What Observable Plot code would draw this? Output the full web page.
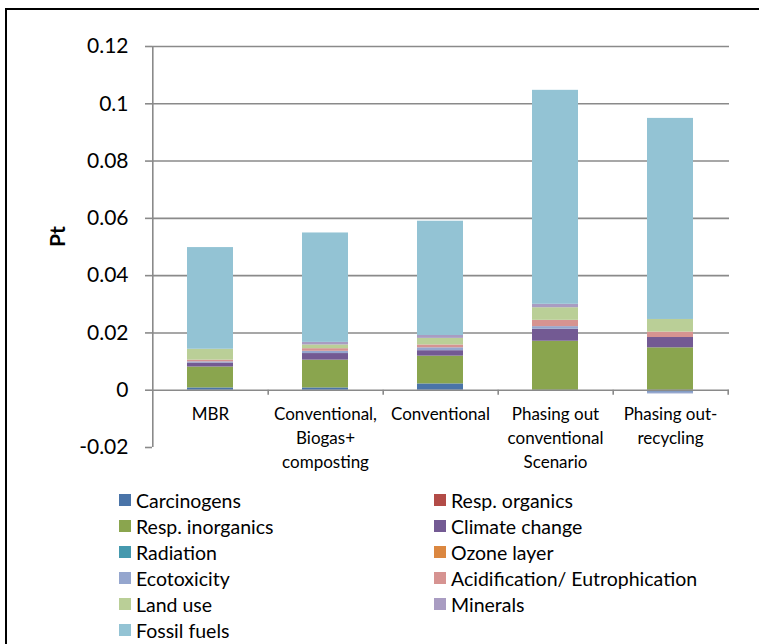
<!DOCTYPE html>
<html>
<head>
<meta charset="utf-8">
<script src="https://cdn.jsdelivr.net/npm/d3@7"></script>
<script src="https://cdn.jsdelivr.net/npm/@observablehq/plot@0.6"></script>
<style>
  html, body { margin: 0; padding: 0; background: #fff; }
  #page { position: relative; width: 759px; height: 644px; overflow: hidden; font-family: Lato, "Open Sans", sans-serif; }
  #border { position: absolute; left: 5px; top: 8px; width: 800px; height: 700px; border: 2px solid #000; box-sizing: border-box; }
  #chart { position: absolute; left: 0; top: 0; }
  #legend { position: absolute; left: 119px; top: 487px; display: grid; grid-template-columns: 315px auto; grid-auto-rows: 26px; font-size: 19.5px; color: #000; }
  .item { display: flex; align-items: center; white-space: nowrap; }
  .sw { width: 12px; height: 12px; margin-right: 5px; flex: none; }
</style>
</head>
<body>
<div id="page">
  <div id="border"></div>
  <div id="chart"></div>
  <div id="legend"></div>
</div>
<script>
// Waste management scenarios (x categories) and their axis labels
const scenarios = ["MBR", "Conventional, Biogas+ composting", "Conventional", "Phasing out conventional Scenario", "Phasing out-recycling"];
const scenarioLabels = ["MBR", "Conventional,\nBiogas+\ncomposting", "Conventional", "Phasing out\nconventional\nScenario", "Phasing out-\nrecycling"];

// Impact categories (stack order) and their colours
const impacts = ["Carcinogens", "Resp. organics", "Resp. inorganics", "Climate change", "Radiation", "Ozone layer", "Ecotoxicity", "Acidification/ Eutrophication", "Land use", "Minerals", "Fossil fuels"];
const impactColors = ["#4a74a8", "#b24b47", "#8aa54e", "#735a93", "#4599ae", "#db8740", "#95a6ce", "#d69391", "#bacf97", "#a99cc2", "#93c3d4"];

// Single-score results (Pt) per scenario, one array per impact category
const carcinogens    = [0.0008, 0.0008, 0.0022, -0.0004, -0.0007];
const respOrganics   = [0, 0, 0, 0, 0];
const respInorganics = [0.0073, 0.0097, 0.0097, 0.0171, 0.0148];
const climateChange  = [0.0014, 0.0023, 0.0019, 0.0042, 0.0036];
const radiation      = [0, 0, 0, 0, 0];
const ozoneLayer     = [0, 0, 0, 0, 0];
const ecotoxicity    = [0.0004, 0.0008, 0.0010, 0.0009, -0.0006];
const acidification  = [0.0006, 0.0009, 0.0010, 0.0022, 0.0019];
const landUse        = [0.0038, 0.0013, 0.0023, 0.0044, 0.0044];
const minerals       = [0, 0.0009, 0.0010, 0.0012, 0];
const fossilFuels    = [0.0355, 0.0382, 0.0399, 0.0747, 0.0702];

// y-axis ticks
const yTicks = [-0.02, 0, 0.02, 0.04, 0.06, 0.08, 0.1, 0.12];
const gridTicks = [0.02, 0.04, 0.06, 0.08, 0.1, 0.12];

const series = [carcinogens, respOrganics, respInorganics, climateChange, radiation, ozoneLayer,
                ecotoxicity, acidification, landUse, minerals, fossilFuels];

const rows = [];
impacts.forEach((impact, i) => {
  scenarios.forEach((s, j) => rows.push({scenario: s, impact, value: series[i][j]}));
});

const width = 759, marginLeft = 152, marginRight = 30;
const paddingInner = 0.6, paddingOuter = 0.3;
const step = (width - marginLeft - marginRight) / (scenarios.length - paddingInner + 2 * paddingOuter);
const axisGray = "#8a8a8a";

const chart = Plot.plot({
  width,
  height: 480,
  marginLeft,
  marginRight,
  marginTop: 46,
  marginBottom: 33,
  style: {fontFamily: "Lato, 'Open Sans', sans-serif", color: "#000", background: "transparent"},
  x: {domain: scenarios, paddingInner, paddingOuter, axis: null},
  y: {domain: [-0.02, 0.12], axis: null},
  color: {domain: impacts, range: impactColors},
  marks: [
    Plot.ruleY(gridTicks, {stroke: axisGray, strokeWidth: 1.6}),
    Plot.barY(rows, {x: "scenario", y: "value", fill: "impact", order: impacts}),
    // vertical y axis line on the left edge of the first band's step
    Plot.ruleX([scenarios[0]], {x: d => d, dx: -step / 2, stroke: axisGray, strokeWidth: 1.6}),
    Plot.axisY(yTicks, {
      tickSize: 7, tickPadding: 17, stroke: axisGray, strokeWidth: 1.6,
      fontSize: 21, label: null, tickFormat: d => String(d)
    }),
    Plot.ruleY([0], {stroke: axisGray, strokeWidth: 1.6}),
    // small category separators below the zero line
    Plot.ruleX(scenarios, {x: d => d, y1: 0, y2: -0.0018, dx: step / 2, stroke: axisGray, strokeWidth: 1.6}),
    Plot.text(scenarios, {
      x: d => d, y: 0, text: (d, i) => scenarioLabels[i],
      lineAnchor: "top", dy: 13, fontSize: 17, lineHeight: 1.41, fill: "#000"
    }),
    Plot.text(["Pt"], {frameAnchor: "left", dx: -94, rotate: -90, fontSize: 21, fontWeight: "bold", fill: "#000"})
  ]
});
document.getElementById("chart").appendChild(chart);

// legend, two columns in row order
const legend = document.getElementById("legend");
impacts.forEach((name, i) => {
  const item = document.createElement("div");
  item.className = "item";
  const sw = document.createElement("span");
  sw.className = "sw";
  sw.style.background = impactColors[i];
  item.appendChild(sw);
  item.appendChild(document.createTextNode(name));
  legend.appendChild(item);
});
</script>
</body>
</html>
